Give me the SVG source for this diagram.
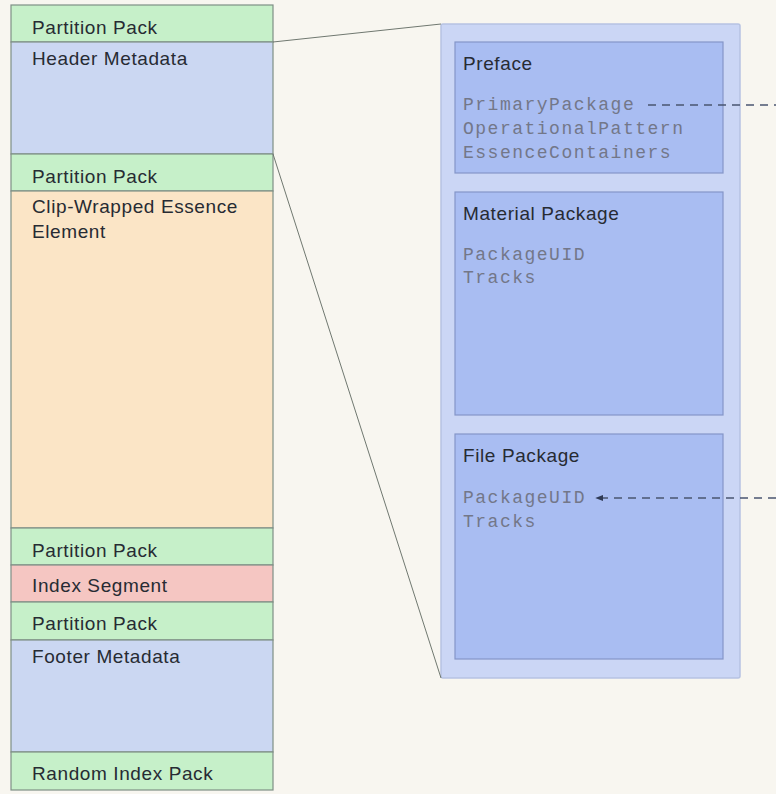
<svg xmlns="http://www.w3.org/2000/svg" width="776" height="794" viewBox="0 0 776 794">
<style>
.lbl{font-family:"Liberation Sans",Arial,sans-serif;font-size:19px;letter-spacing:0.6px;fill:#272b33}
.mono{font-family:"Liberation Mono","Courier New",monospace;font-size:18px;letter-spacing:1.5px;fill:#737789}
.seg{stroke:#7f8f86;stroke-width:1.2}
.pp{fill:#c6f0c9}
.md{fill:#cbd7f2}
.ess{fill:#fbe5c6}
.idx{fill:#f5c6c2}
.inner{fill:#a9bdf2;stroke:#8595c8;stroke-width:1.2}
.conn{stroke:#707870;stroke-width:1;fill:none}
.dash{stroke:#4a5670;stroke-width:1.3;stroke-dasharray:8 6;fill:none}
</style>
<defs>
<marker id="ah" viewBox="0 0 10 10" refX="9" refY="5" markerWidth="6" markerHeight="6" orient="auto">
<path d="M0,1 L10,5 L0,9 z" fill="#2f3a55"/>
</marker>
</defs>
<rect width="776" height="794" fill="#f8f6f0"/>
<g id="left-column">
<g id="pp1"><rect class="pp seg" x="11" y="5" width="262" height="37"/><text class="lbl" x="32" y="34">Partition Pack</text></g>
<g id="header"><rect class="md seg" x="11" y="42" width="262" height="112"/><text class="lbl" x="32" y="65">Header Metadata</text></g>
<g id="pp2"><rect class="pp seg" x="11" y="154" width="262" height="37"/><text class="lbl" x="32" y="183">Partition Pack</text></g>
<g id="essence"><rect class="ess seg" x="11" y="191" width="262" height="337"/><text class="lbl" x="32" y="213">Clip-Wrapped Essence</text><text class="lbl" x="32" y="238">Element</text></g>
<g id="pp3"><rect class="pp seg" x="11" y="528" width="262" height="37"/><text class="lbl" x="32" y="557">Partition Pack</text></g>
<g id="index"><rect class="idx seg" x="11" y="565" width="262" height="37"/><text class="lbl" x="32" y="592">Index Segment</text></g>
<g id="pp4"><rect class="pp seg" x="11" y="602" width="262" height="38"/><text class="lbl" x="32" y="630">Partition Pack</text></g>
<g id="footer"><rect class="md seg" x="11" y="640" width="262" height="112"/><text class="lbl" x="32" y="663">Footer Metadata</text></g>
<g id="rip"><rect class="pp seg" x="11" y="752" width="262" height="38"/><text class="lbl" x="32" y="780">Random Index Pack</text></g>
</g>
<g id="container"><rect x="441" y="24" width="299" height="654" rx="2" fill="#cbd6f5" stroke="#b6c2e2" stroke-width="1.5"/></g>
<g id="preface"><rect class="inner" x="455" y="42" width="268" height="131"/>
<text class="lbl" x="463" y="70">Preface</text>
<text class="mono" x="463" y="110">PrimaryPackage</text>
<text class="mono" x="463" y="134">OperationalPattern</text>
<text class="mono" x="463" y="158">EssenceContainers</text></g>
<g id="material"><rect class="inner" x="455" y="192" width="268" height="223"/>
<text class="lbl" x="463" y="220">Material Package</text>
<text class="mono" x="463" y="260">PackageUID</text>
<text class="mono" x="463" y="283">Tracks</text></g>
<g id="file"><rect class="inner" x="455" y="434" width="268" height="225"/>
<text class="lbl" x="463" y="462">File Package</text>
<text class="mono" x="463" y="503">PackageUID</text>
<text class="mono" x="463" y="527">Tracks</text></g>
<g id="connectors">
<line class="conn" x1="273" y1="42" x2="441" y2="24"/>
<line class="conn" x1="273" y1="154" x2="441" y2="678"/>
<line class="dash" x1="648" y1="105" x2="776" y2="105"/>
<line class="dash" x1="776" y1="498" x2="596" y2="498" marker-end="url(#ah)"/>
</g>
</svg>
